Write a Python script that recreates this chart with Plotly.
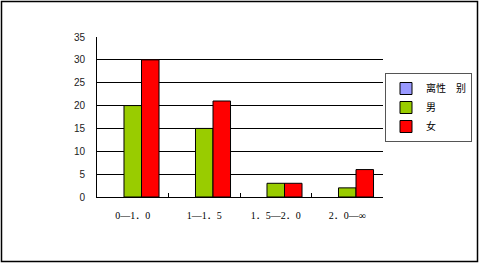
import plotly.graph_objects as go

categories = ["0—1．0", "1—1．5", "1．5—2．0", "2．0—∞"]
series_names = ["离性　别", "男", "女"]
vals_blank = [None, None, None, None]
vals_male = [20, 15, 3, 2]
vals_female = [30, 21, 3, 6]
y_ticks = [0, 5, 10, 15, 20, 25, 30, 35]

colors = ["#9999FF", "#99CC00", "#FF0000"]
series_vals = [vals_blank, vals_male, vals_female]

W, H = 479, 264
L, R, T, B = 97, 96, 37, 67
pw, ph = W - L - R, H - T - B

fig = go.Figure()
for name, vals, c in zip(series_names, series_vals, colors):
    fig.add_trace(go.Bar(
        x=categories, y=vals, name=name,
        marker=dict(color=c, line=dict(color="black", width=1)),
    ))

def px2paper_x(px):
    return (px - L) / pw

def px2paper_y(py):
    return (H - B - py) / ph

fig.update_layout(
    width=W, height=H,
    margin=dict(l=L, r=R, t=T, b=B, pad=0, autoexpand=False),
    paper_bgcolor="white", plot_bgcolor="white",
    barmode="group", bargap=0.265, bargroupgap=0,
    font=dict(family="Liberation Serif, Noto Sans CJK SC, serif", size=10, color="black"),
    showlegend=True,
    legend=dict(
        x=px2paper_x(472), y=px2paper_y(107.5), xanchor="right", yanchor="middle",
        bordercolor="#555555", borderwidth=1, bgcolor="white",
        font=dict(family="Noto Sans CJK SC", size=10, color="black"),
        tracegroupgap=0, itemwidth=30,
    ),
    xaxis=dict(
        type="category", showline=True, linecolor="black", linewidth=1,
        ticks="inside", ticklen=4, tickcolor="black", tickson="boundaries",
        tickfont=dict(family="Liberation Serif, Noto Sans CJK SC", size=10, color="black"),
        ticklabelstandoff=9, showgrid=False, fixedrange=True,
    ),
    yaxis=dict(
        range=[0, 35], tickvals=y_ticks, showline=True, linecolor="black", linewidth=1,
        showgrid=True, gridcolor="black", gridwidth=1, zeroline=False,
        ticks="", tickfont=dict(family="Liberation Sans, Arial, sans-serif", size=10, color="#222222"),
        ticklabelstandoff=9, fixedrange=True,
    ),
    shapes=[dict(
        type="rect", xref="paper", yref="paper",
        x0=px2paper_x(1.5), x1=px2paper_x(477.5),
        y0=px2paper_y(261.5), y1=px2paper_y(1.5),
        line=dict(color="black", width=1.5), fillcolor="rgba(0,0,0,0)", layer="above",
    )],
)

fig.write_html("out.html")
